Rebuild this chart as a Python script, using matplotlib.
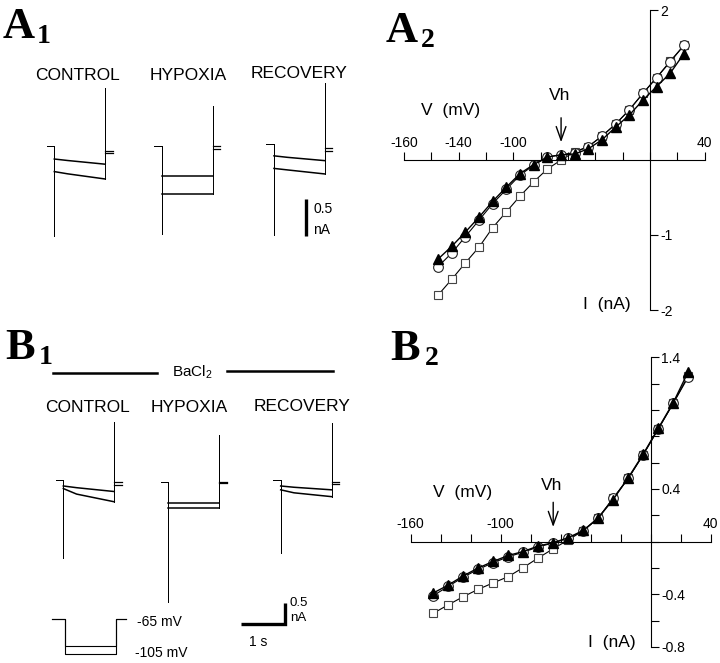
import matplotlib
matplotlib.use('Agg')
import matplotlib.pyplot as plt
from matplotlib.lines import Line2D

plt.rcParams['font.family'] = ['Liberation Sans', 'DejaVu Sans']
plt.rcParams['axes.unicode_minus'] = False
plt.rcParams['mathtext.fontset'] = 'custom'
plt.rcParams['mathtext.rm'] = 'Liberation Sans'

W, H = 720, 663

# ---------------- current traces (nA, relative to holding current) ----------------
conditions = ['CONTROL', 'HYPOXIA', 'RECOVERY']
sweep_t = [0.0, 0.3, 1.15]          # s, sample times inside the voltage step
step_dur = 1.15                     # s
pre_dur = 0.17
post_dur = 0.17

# A1: two sweeps per condition (to -95 and -105 mV)
a1_upper = [[-0.18, -0.20, -0.25], [-0.405, -0.405, -0.405], [-0.16, -0.18, -0.225]]
a1_lower = [[-0.35, -0.38, -0.45], [-0.657, -0.657, -0.657], [-0.33, -0.35, -0.405]]
a1_trough = [-1.22, -1.20, -1.23]
a1_spike = [0.78, 0.53, 0.82]
a1_tails = [[-0.07, -0.10], [-0.01, -0.04], [-0.05, -0.09]]

# B1: same protocol in BaCl2
b1_upper = [[-0.14, -0.18, -0.27], [-0.49, -0.49, -0.49], [-0.14, -0.17, -0.23]]
b1_lower = [[-0.20, -0.33, -0.51], [-0.62, -0.62, -0.62], [-0.23, -0.30, -0.39]]
b1_trough = [-1.83, -2.81, -1.72]
b1_spike = [1.37, 1.09, 1.33]
b1_tails = [[-0.04, -0.12], [0.0, -0.03], [-0.04, -0.09]]

# voltage protocol
v_hold = -65
v_steps = [-95, -105]

# ---------------- I-V data ----------------
a2_v = [-155, -145, -135, -125, -115, -105, -95, -85, -75, -65,
        -55, -45, -35, -25, -15, -5, 5, 15, 25]
a2_control = [-1.42, -1.24, -1.02, -0.80, -0.58, -0.39, -0.20, -0.07, 0.04, 0.07,
              0.10, 0.18, 0.32, 0.48, 0.67, 0.89, 1.10, 1.31, 1.53]
a2_hypoxia = [-1.80, -1.59, -1.37, -1.16, -0.90, -0.69, -0.48, -0.29, -0.12, 0.0,
              0.11, 0.18, 0.32, 0.48, 0.67, 0.89, 1.10, 1.32, 1.53]
a2_recovery = [-1.32, -1.15, -0.96, -0.76, -0.55, -0.36, -0.18, -0.06, 0.04, 0.07,
               0.08, 0.15, 0.27, 0.44, 0.60, 0.80, 0.98, 1.16, 1.42]

b2_v = [-145, -135, -125, -115, -105, -95, -85, -75, -65,
        -55, -45, -35, -25, -15, -5, 5, 15, 25]
b2_control = [-0.41, -0.34, -0.27, -0.21, -0.16, -0.115, -0.08, -0.04, -0.01,
              0.026, 0.083, 0.177, 0.33, 0.48, 0.66, 0.855, 1.05, 1.25]
b2_hypoxia = [-0.544, -0.48, -0.418, -0.362, -0.313, -0.266, -0.197, -0.124, -0.054,
              0.013, 0.083, 0.18, 0.33, 0.48, 0.66, 0.855, 1.05, 1.26]
b2_recovery = [-0.39, -0.33, -0.26, -0.20, -0.15, -0.105, -0.075, -0.033, -0.008,
               0.03, 0.085, 0.18, 0.32, 0.485, 0.665, 0.86, 1.055, 1.29]

fig = plt.figure(figsize=(W / 100, H / 100), dpi=100)


def ftext(x, y, s, **kw):
    kw.setdefault('ha', 'center')
    kw.setdefault('va', 'center')
    fig.text(x / W, 1 - y / H, s, **kw)


def fline(xs, ys, **kw):
    fig.add_artist(Line2D([x / W for x in xs], [1 - y / H for y in ys], color='black', **kw))


def scaled_axes(box, origin, px_x, px_y):
    x0, y0, x1, y1 = box
    ax = fig.add_axes([x0 / W, 1 - y1 / H, (x1 - x0) / W, (y1 - y0) / H])
    ax.set_xlim((x0 - origin[0]) / px_x, (x1 - origin[0]) / px_x)
    ax.set_ylim((origin[1] - y1) / px_y, (origin[1] - y0) / px_y)
    ax.axis('off')
    return ax


def draw_sweeps(ax, t0, base, upper, lower, trough, spike, tails):
    for vals, tail in zip((upper, lower), tails):
        # fast transients (thin verticals)
        ax.plot([t0 - pre_dur, t0, t0], [base, base, base + trough],
                color='black', lw=0.7)
        ax.plot([t0 + step_dur, t0 + step_dur], [base + vals[-1], base + spike],
                color='black', lw=0.7)
        ax.plot([t0 + step_dur, t0 + step_dur + post_dur], [base + tail, base + tail],
                color='black', lw=0.9)
        # steady sweep during the step
        ax.plot([t0 + s for s in sweep_t], [base + v for v in vals],
                color='black', lw=1.1)


# panel letters
for x, y, letter, sub in [(3, 38, 'A', '1'), (386, 42, 'A', '2'),
                          (5, 359, 'B', '1'), (390, 360, 'B', '2')]:
    ftext(x, y, letter, ha='left', va='baseline', family='Liberation Serif',
          weight='bold', fontsize=32)
    ftext(x + 34 if sub == '1' else x + 35, y + 5, sub, ha='left', va='baseline',
          family='Liberation Serif', weight='bold', fontsize=20)

# ---------------- A1 ----------------
ax = scaled_axes((0, 60, 360, 260), (54.3, 145.7), 44.3, 74.0)
a1_t0 = [0.0, 2.424, 4.959]
a1_base = [0.0, 0.0, 0.023]
for i in range(3):
    draw_sweeps(ax, a1_t0[i], a1_base[i], a1_upper[i], a1_lower[i],
                a1_trough[i], a1_spike[i], a1_tails[i])
ax.plot([5.675, 5.675], [-1.22, -0.72], color='black', lw=2.4, solid_capstyle='butt')
for x, y, s in [(78, 75, 'CONTROL'), (188, 75, 'HYPOXIA'), (299, 74, 'RECOVERY')]:
    ftext(x, y, s, fontsize=12.5)
ftext(313, 209, '0.5', ha='left', fontsize=10)
ftext(313, 230, 'nA', ha='left', fontsize=10)

# ---------------- B1 ----------------
ax = scaled_axes((0, 410, 360, 640), (63.3, 480.0), 44.3, 42.7)
b1_t0 = [0.0, 2.37, 4.907]
b1_base = [0.0, -0.04, 0.0]
for i in range(3):
    draw_sweeps(ax, b1_t0[i], b1_base[i], b1_upper[i], b1_lower[i],
                b1_trough[i], b1_spike[i], b1_tails[i])
ax.plot([4.004, 5.004, 5.004], [-3.372, -3.372, -2.872], color='black', lw=2.4,
        solid_joinstyle='miter', solid_capstyle='butt')
for x, y, s in [(87.5, 407, 'CONTROL'), (189, 407, 'HYPOXIA'), (302, 406, 'RECOVERY')]:
    ftext(x, y, s, fontsize=12.5)
ftext(290, 603, '0.5', ha='left', fontsize=9.5)
ftext(290, 618, 'nA', ha='left', fontsize=9.5)
ftext(258, 642, '1 s', fontsize=10)

fline([53, 157], [373, 373], lw=1.8)
fline([227, 333], [371, 371], lw=1.8)
ftext(192, 372, r'BaCl$_\mathregular{2}$', fontsize=11)

# voltage protocol
axv = scaled_axes((40, 600, 200, 663), (65.0, 619.3), 44.3, 0.875)
axv.set_ylim(axv.get_ylim()[0] - 65, axv.get_ylim()[1] - 65)
for vs in v_steps:
    axv.plot([-0.29, 0, 0, step_dur, step_dur, step_dur + 0.23],
             [v_hold, v_hold, vs, vs, v_hold, v_hold], color='black', lw=0.8)
ftext(137, 622, '-65 mV', ha='left', fontsize=10)
ftext(135, 653, '-105 mV', ha='left', fontsize=10)


# ---------------- I-V panels ----------------
def iv_axes(box, xlim, ylim, xticks, xlabels, yticks, ylabels):
    x0, y0, x1, y1 = box
    ax = fig.add_axes([x0 / W, 1 - y1 / H, (x1 - x0) / W, (y1 - y0) / H])
    ax.patch.set_visible(False)
    ax.set_xlim(xlim)
    ax.set_ylim(ylim)
    ax.spines['left'].set_visible(False)
    ax.spines['bottom'].set_visible(False)
    ax.spines['top'].set_position(('data', 0))
    ax.spines['right'].set_position(('data', 0))
    for s in ('top', 'right'):
        ax.spines[s].set_linewidth(0.8)
    ax.xaxis.set_ticks_position('top')
    ax.yaxis.set_ticks_position('right')
    ax.set_xticks(xticks)
    ax.set_xticklabels(xlabels)
    ax.set_yticks(yticks)
    ax.set_yticklabels(ylabels)
    ax.tick_params(direction='out', length=5.5, width=0.8, labelsize=10, pad=2)
    return ax


def iv_series(ax, v, control, hypoxia, recovery, ms):
    ax.plot(v, hypoxia, color='black', lw=0.8, marker='s', ms=ms - 1,
            mfc='white', mec='#444444', mew=0.8)
    ax.plot(v, control, color='black', lw=0.8, marker='o', ms=ms,
            mfc='white', mec='#222222', mew=0.8)
    ax.plot(v, recovery, color='black', lw=1.0, marker='^', ms=ms - 0.5,
            mfc='black', mec='black')


a2_xt = list(range(-180, 41, 20))
a2_xl = ['-160' if t == -180 else (str(t) if t in (-140, -100, 40) else '') for t in a2_xt]
ax = iv_axes((404, 10, 704.5, 310), (-180, 40), (-2, 2), a2_xt, a2_xl,
             [2, -1, -2], ['2', '-1', '-2'])
iv_series(ax, a2_v, a2_control, a2_hypoxia, a2_recovery, 7)
ax.annotate('', xy=(-65, 0.2), xytext=(-65, 0.6),
            arrowprops=dict(arrowstyle='->,head_length=0.7,head_width=0.25',
                            lw=1.0, color='black', mutation_scale=14))
ftext(451, 110, 'V  (mV)', fontsize=12.5)
ftext(560, 95, 'Vh', fontsize=12.5)
ftext(607, 305, 'I  (nA)', fontsize=12.5)

b2_xt = list(range(-160, 41, 20))
b2_xl = [str(t) if t in (-160, -100, 40) else '' for t in b2_xt]
b2_yt = [round(-0.8 + 0.2 * k, 1) for k in range(12)]
b2_yl = [str(t) if t in (1.4, 0.4, -0.4, -0.8) else '' for t in b2_yt]
ax = iv_axes((410.7, 357.3, 710.7, 647), (-160, 40), (-0.8, 1.4), b2_xt, b2_xl,
             b2_yt, b2_yl)
iv_series(ax, b2_v, b2_control, b2_hypoxia, b2_recovery, 7)
ax.annotate('', xy=(-65, 0.09), xytext=(-65, 0.32),
            arrowprops=dict(arrowstyle='->,head_length=0.7,head_width=0.25',
                            lw=1.0, color='black', mutation_scale=14))
ftext(463, 493, 'V  (mV)', fontsize=12.5)
ftext(552, 485, 'Vh', fontsize=12.5)
ftext(612, 643, 'I  (nA)', fontsize=12.5)

fig.savefig('out.png', dpi=100, facecolor='white')
